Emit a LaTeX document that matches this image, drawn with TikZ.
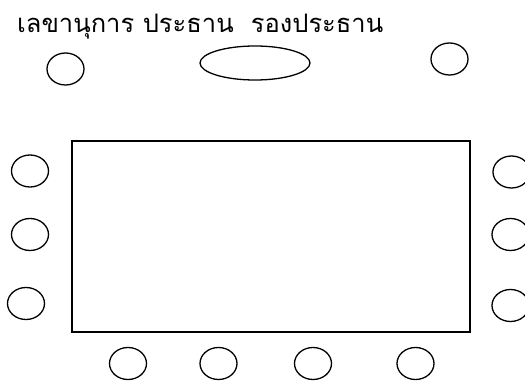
\documentclass[tikz,border=0pt]{standalone}
\usepackage{fontspec}
\newfontfamily\thaifont[Script=Thai]{Loma}
\usetikzlibrary{shapes.geometric}
\begin{document}
\begin{tikzpicture}[x=1pt,y=-1pt,
  seat/.style={draw,ellipse,line width=1.3pt,inner sep=0pt,minimum width=37pt,minimum height=32pt},
  chair/.style={draw,ellipse,line width=1.3pt,inner sep=0pt,minimum width=110pt,minimum height=34pt},
  tablebox/.style={draw,rectangle,line width=1.3pt,inner sep=0pt,minimum width=398pt,minimum height=191pt},
  lbl/.style={inner sep=0pt,font=\thaifont\fontsize{25.5}{30}\selectfont}]
\useasboundingbox (0,0) rectangle (525,387);
\node[lbl,anchor=base west] (title) at (17,33) {เลขานุการ ประธาน\ \ รองประธาน};
\node[seat] (sec) at (65.5,69) {};
\node[chair] (pres) at (255,63) {};
\node[seat] (vice) at (449.5,59) {};
\node[tablebox] (table) at (271,236.5) {};
\node[seat] (l1) at (30,171) {};
\node[seat] (l2) at (30,234.5) {};
\node[seat] (l3) at (26,303.5) {};
\node[seat] (r1) at (511.5,172) {};
\node[seat] (r2) at (510.5,234.5) {};
\node[seat] (r3) at (510.5,305.5) {};
\node[seat] (b1) at (128,363.5) {};
\node[seat] (b2) at (218.5,363.5) {};
\node[seat] (b3) at (313,363.5) {};
\node[seat] (b4) at (415.5,363.5) {};
\end{tikzpicture}
\end{document}
